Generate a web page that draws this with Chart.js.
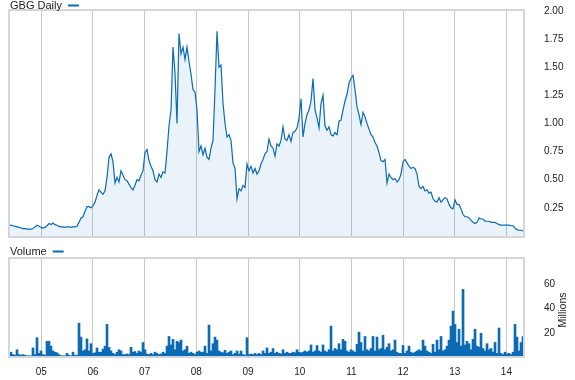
<!DOCTYPE html>
<html>
<head>
<meta charset="utf-8">
<script src="https://cdn.jsdelivr.net/npm/chart.js@4.4.1/dist/chart.umd.min.js"></script>
<style>
  body { margin: 0; background: #fff; }
  #wrap { position: relative; width: 575px; height: 380px; }
  canvas { position: absolute; left: 0; }
  #priceCanvas { top: 0; }
  #volCanvas { top: 245px; }
</style>
</head>
<body>
<div id="wrap">
  <canvas id="priceCanvas" width="575" height="245"></canvas>
  <canvas id="volCanvas" width="575" height="135"></canvas>
</div>
<script>
// GBG daily - sampled about every two weeks from mid May 2004
const startYear = 2004.375;
const stepYears = 0.0387;
const endYear = 2014.34;

const price = [
  0.09, 0.095, 0.09, 0.085, 0.08, 0.075, 0.07, 0.065, 0.065, 0.06,
  0.06, 0.06, 0.065, 0.08, 0.095, 0.085, 0.075, 0.07, 0.075, 0.09,
  0.11, 0.10, 0.115, 0.10, 0.095, 0.085, 0.08, 0.08, 0.075, 0.08,
  0.08, 0.075, 0.08, 0.08, 0.085, 0.12, 0.16, 0.17, 0.22, 0.26,
  0.26, 0.25, 0.27, 0.30, 0.36, 0.41, 0.39, 0.37, 0.40, 0.52,
  0.70, 0.73, 0.66, 0.47, 0.52, 0.48, 0.58, 0.54, 0.50, 0.49,
  0.46, 0.43, 0.41, 0.45, 0.50, 0.49, 0.54, 0.58, 0.74, 0.77,
  0.67, 0.62, 0.58, 0.50, 0.48, 0.55, 0.52, 0.57, 0.56, 0.75,
  0.98, 1.12, 1.68, 1.45, 1.00, 1.80, 1.62, 1.68, 1.57, 1.68,
  1.55, 1.44, 1.30, 1.28, 1.12, 0.75, 0.80, 0.72, 0.78, 0.70,
  0.68, 0.78, 0.85, 1.30, 1.82, 1.50, 1.52, 1.18, 1.00, 0.88,
  0.90, 0.85, 0.65, 0.60, 0.33, 0.42, 0.40, 0.45, 0.43, 0.64,
  0.58, 0.62, 0.56, 0.60, 0.55, 0.58, 0.64, 0.68, 0.73, 0.75,
  0.86, 0.80, 0.78, 0.71, 0.82, 0.80, 0.85, 0.97, 0.86, 0.85,
  0.90, 0.84, 0.92, 0.93, 0.96, 1.05, 1.22, 0.88, 1.00, 1.08,
  1.12, 1.20, 1.40, 1.12, 1.05, 0.96, 1.18, 1.25, 0.98, 0.94,
  0.97, 0.90, 0.89, 0.92, 0.90, 1.02, 1.03, 1.12, 1.20, 1.26,
  1.36, 1.40, 1.43, 1.30, 1.15, 1.08, 0.99, 1.10, 1.06, 1.00,
  0.95, 0.90, 0.88, 0.83, 0.80, 0.74, 0.67, 0.66, 0.68, 0.47,
  0.55, 0.52, 0.50, 0.51, 0.48, 0.50, 0.55, 0.66, 0.68, 0.65,
  0.62, 0.60, 0.61, 0.60, 0.55, 0.44, 0.42, 0.44, 0.40, 0.41,
  0.38, 0.39, 0.33, 0.31, 0.30, 0.34, 0.30, 0.32, 0.34, 0.33,
  0.28, 0.25, 0.24, 0.32, 0.28, 0.28, 0.24, 0.19, 0.17, 0.17,
  0.16, 0.14, 0.12, 0.11, 0.12, 0.16, 0.15, 0.15, 0.13, 0.13,
  0.13, 0.12, 0.12, 0.12, 0.11, 0.10, 0.095, 0.095, 0.095, 0.095,
  0.095, 0.09, 0.09, 0.07, 0.055, 0.05, 0.05, 0.045
];

// millions of shares
const volume = [
  1.5, 4, 2, 1.5, 6, 2, 1.5, 2, 1.5, 1,
  1, 1, 7.5, 2, 16, 3, 5, 2, 1.5, 13,
  13, 9, 5, 4, 3.5, 2, 1, 1, 1, 3,
  1.5, 1, 4, 1.5, 1.5, 28, 16.5, 5, 6, 15,
  5, 11, 3, 3.5, 7.5, 4, 4, 6.5, 9, 27,
  8, 5, 3, 2, 4, 6, 5, 2, 2, 2.5,
  2, 8, 4, 4.5, 3, 5, 4, 12, 6, 2.5,
  2, 3, 2, 4, 3, 2, 2.5, 4, 3, 9,
  17, 10, 14.6, 6, 13, 12, 14, 5, 6, 9,
  3, 4, 3, 2, 4, 5, 4, 4, 9, 3,
  26.5, 5, 11, 16.5, 14, 5, 4, 3.5, 5.5, 3,
  4, 5, 2, 3, 5, 2.5, 5, 2, 1.5, 16,
  2, 2.5, 2, 3, 2, 3, 2, 5, 3, 7.5,
  3, 4, 7, 3, 4, 3, 2.5, 6, 3, 4,
  3, 3, 4, 3.5, 6, 4, 3.5, 4, 5, 4,
  5, 10, 4, 5, 9.5, 5, 4, 10, 5, 4,
  6, 25.6, 5, 7, 6, 11, 6, 14.6, 13, 5,
  4, 6, 5, 4, 10.5, 20.6, 12, 5, 17, 6,
  5, 7, 17, 5, 16.5, 6, 7, 18, 6, 8,
  11, 5, 6, 14, 4, 3, 3, 9.5, 3, 5,
  9, 4, 3, 4, 5, 6, 5, 14, 9, 5,
  4, 3, 10.5, 4, 14, 6, 17, 5, 6, 9,
  14, 25.6, 38, 27, 12, 23, 9, 56, 10, 13,
  11, 6, 14.6, 23, 9, 8, 19.6, 7, 5, 11,
  6, 7, 4, 12, 3, 24, 3, 2, 4, 2.5,
  3, 2, 4, 27, 16.5, 5, 12, 17
];

const yearTicks = [2005, 2006, 2007, 2008, 2009, 2010, 2011, 2012, 2013, 2014];
const priceTicks = [0.25, 0.5, 0.75, 1.0, 1.25, 1.5, 1.75, 2.0];
const volumeTicks = [20, 40, 60];

const BLUE = '#0b6bb5';
const FONT = '"Liberation Sans", Arial, sans-serif';
Chart.defaults.font.family = FONT;
Chart.defaults.color = '#222';

// stop tick labels from pushing the plot area in
function noOverhang(s) {
  s.paddingTop = 0;
  s.paddingBottom = 0;
  s.paddingLeft = 0;
  s.paddingRight = 0;
}

// grey box round the plot area
const framePlugin = {
  id: 'frame',
  afterDraw(chart) {
    const a = chart.chartArea, ctx = chart.ctx;
    ctx.save();
    ctx.strokeStyle = '#d3d7db';
    ctx.lineWidth = 2;
    ctx.strokeRect(a.left, a.top, a.right - a.left, a.bottom - a.top);
    ctx.restore();
  }
};

// little "name —" legend at top left
function miniLegend(text, baseline) {
  return {
    id: 'miniLegend',
    afterDraw(chart) {
      const ctx = chart.ctx;
      ctx.save();
      ctx.font = '11px ' + FONT;
      ctx.fillStyle = '#222';
      ctx.fillText(text, 10, baseline);
      const w = ctx.measureText(text).width;
      ctx.fillStyle = BLUE;
      ctx.fillRect(10 + w + 6, baseline - 4.5, 11, 2);
      ctx.restore();
    }
  };
}

const millionsPlugin = {
  id: 'millions',
  afterDraw(chart) {
    const ctx = chart.ctx;
    ctx.save();
    ctx.font = '10.5px ' + FONT;
    ctx.fillStyle = '#222';
    ctx.translate(563, 65);
    ctx.rotate(-Math.PI / 2);
    ctx.textAlign = 'center';
    ctx.textBaseline = 'middle';
    ctx.fillText('Millions', 0, 0);
    ctx.restore();
  }
};

function xScale(showLabels, height) {
  return {
    type: 'linear',
    min: startYear,
    max: endYear,
    offset: false,
    afterBuildTicks: s => { s.ticks = yearTicks.map(v => ({ value: v })); },
    afterFit: s => { s.height = height; noOverhang(s); },
    grid: { color: '#c8c8c8', lineWidth: 1, drawTicks: false, offset: false },
    border: { display: false },
    ticks: {
      display: showLabels,
      padding: 9,
      font: { size: 10 },
      callback: v => String(v).slice(2)
    }
  };
}

new Chart(document.getElementById('priceCanvas'), {
  type: 'line',
  data: {
    datasets: [{
      label: 'GBG Daily',
      data: price.map((v, i) => ({ x: startYear + i * stepYears, y: v })),
      borderColor: BLUE,
      borderWidth: 1.2,
      backgroundColor: 'rgba(20,120,190,0.09)',
      fill: 'start',
      pointRadius: 0,
      tension: 0
    }]
  },
  options: {
    responsive: false,
    animation: false,
    events: [],
    layout: { padding: { left: 9, top: 10, right: 0, bottom: 0 } },
    plugins: { legend: { display: false }, tooltip: { enabled: false } },
    scales: {
      x: xScale(false, 8),
      y: {
        position: 'right',
        min: -0.01,
        max: 2.01,
        afterBuildTicks: s => { s.ticks = priceTicks.map(v => ({ value: v })); },
        afterFit: s => { s.width = 51; noOverhang(s); },
        grid: { display: false },
        border: { display: false },
        ticks: { padding: 12, font: { size: 10 }, callback: v => v.toFixed(2) }
      }
    }
  },
  plugins: [framePlugin, miniLegend('GBG Daily', 9)]
});

new Chart(document.getElementById('volCanvas'), {
  type: 'bar',
  data: {
    datasets: [{
      label: 'Volume',
      data: volume.map((v, i) => ({ x: startYear + i * stepYears, y: v })),
      backgroundColor: BLUE,
      barPercentage: 1,
      categoryPercentage: 1,
      borderWidth: 0
    }]
  },
  options: {
    responsive: false,
    animation: false,
    events: [],
    layout: { padding: { left: 9, top: 13, right: 0, bottom: 0 } },
    plugins: { legend: { display: false }, tooltip: { enabled: false } },
    scales: {
      x: xScale(true, 23),
      y: {
        position: 'right',
        min: 0,
        max: 82,
        afterBuildTicks: s => { s.ticks = volumeTicks.map(v => ({ value: v })); },
        afterFit: s => { s.width = 51; noOverhang(s); },
        grid: { display: false },
        border: { display: false },
        ticks: { padding: 12, font: { size: 10 } }
      }
    }
  },
  plugins: [framePlugin, miniLegend('Volume', 10), millionsPlugin]
});
</script>
</body>
</html>
